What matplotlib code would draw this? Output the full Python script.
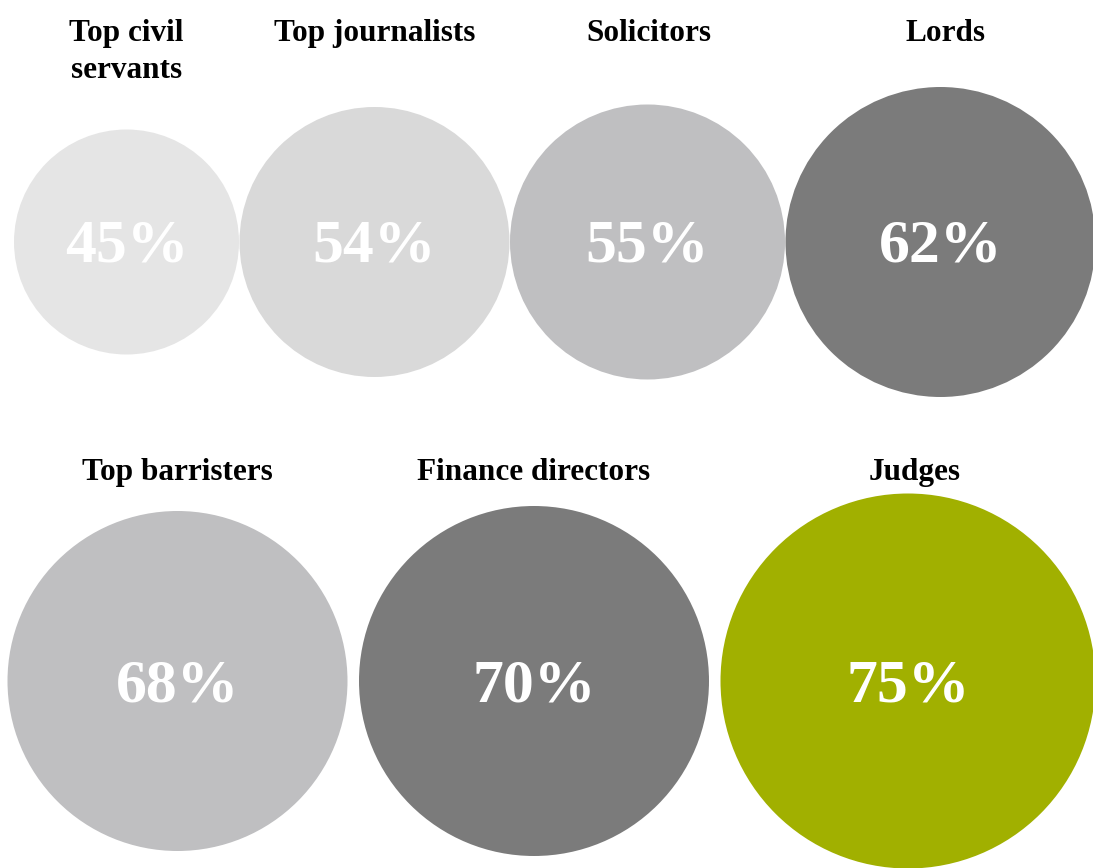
import matplotlib
matplotlib.use("Agg")
import matplotlib.pyplot as plt
from matplotlib.patches import Circle

# share of each profession that went to private school
row1_labels = ["Top civil\nservants", "Top journalists", "Solicitors", "Lords"]
row1_values = [45, 54, 55, 62]
row1_colors = ["#e5e5e5", "#d9d9d9", "#bfbfc1", "#7b7b7b"]

row2_labels = ["Top barristers", "Finance directors", "Judges"]
row2_values = [68, 70, 75]
row2_colors = ["#bfbfc1", "#7b7b7b", "#a1b000"]

scale = 2.5  # radius (px) per percentage point
font = "Liberation Serif"
line_px = 37

fig = plt.figure(figsize=(10.93, 8.68), dpi=100)
ax = fig.add_axes([0, 0, 1, 1])
ax.set_xlim(0, 1093)
ax.set_ylim(868, 0)
ax.set_aspect("equal")
ax.axis("off")


def draw_row(labels, values, colors, x0, cy, gap, title_y, title_shift):
    x = x0
    prev_r = None
    for lab, v, c, sh in zip(labels, values, colors, title_shift):
        r = v * scale
        if prev_r is not None:
            x = x + prev_r + r + gap
        ax.add_patch(Circle((x, cy), r, color=c, lw=0))
        ax.text(x, cy + 20, f"{v}%", ha="center", va="baseline", color="white",
                fontsize=44.5, fontweight="bold", family=font)
        for i, line in enumerate(lab.split("\n")):
            ax.text(x + sh, title_y + i * line_px, line, ha="center", va="baseline",
                    color="black", fontsize=22.5, fontweight="bold", family=font)
        prev_r = r


draw_row(row1_labels, row1_values, row1_colors, 126.5, 242, 0.5, 41, [0, 0, 1, 5])
draw_row(row2_labels, row2_values, row2_colors, 177.5, 681, 11.5, 480, [0, 0, 7])

fig.savefig("out.png", dpi=100)
